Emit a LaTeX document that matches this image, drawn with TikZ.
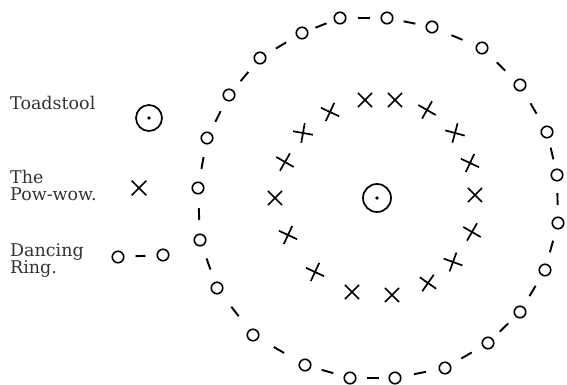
\documentclass[tikz,border=0pt]{standalone}
\usepackage{fontspec}
\setmainfont{DejaVu Serif}
\usetikzlibrary{shapes.misc,calc}
\begin{document}
\begin{tikzpicture}[x=1pt,y=-1pt,
  ringpt/.style={circle,draw,minimum size=11.5pt,inner sep=0pt,line width=1.6pt},
  ringdash/.style={line width=1.9pt},
  pw/.style={cross out,draw,minimum size=12.5pt,inner sep=0pt,line width=1.7pt},
  toad/.style={circle,draw,minimum size=27pt,inner sep=0pt,line width=1.7pt},
  lbl/.style={anchor=base west,inner sep=0pt,font=\fontsize{17.5}{17}\selectfont,text=black!80}]
\useasboundingbox (0,0) rectangle (567,385);

% legend
\node[lbl] (l1) at (10,110) {Toadstool};
\node[lbl] (l2a) at (10,183) {The};
\node[lbl] (l2b) at (10,200) {Pow-wow.};
\node[lbl] (l3a) at (10,256) {Dancing};
\node[lbl] (l3b) at (10,273) {Ring.};
\node[toad,minimum size=26pt] (lt) at (149,118) {};
\fill (lt.center) circle (1.9);
\node[pw,minimum size=13pt] (lx) at (139,188) {};
\node[ringpt] (lr1) at (118,257) {};
\node[ringpt] (lr2) at (163,255) {};
\draw[ringdash] ($(lr1)!0.5!(lr2)!5pt!(lr1)$) -- ($(lr1)!0.5!(lr2)!5pt!(lr2)$);

% centre toadstool
\node[toad,minimum size=28pt] (t) at (377,198) {};
\fill (t.center) circle (1.9);

% dancing ring
\foreach \n/\x/\y in {1/340/18,2/387/18,3/432/27,4/482/48,5/520/85,6/547/132,
  7/557/175,8/558/223,9/545/270,10/520/312,11/488/343,12/445/368,13/395/378,
  14/350/378,15/305/365,16/253/335,17/217/288,18/200/240,19/198/188,20/207/138,
  21/229/95,22/260/58,23/302/33}
  \node[ringpt] (c\n) at (\x,\y) {};
\foreach \i/\j in {1/2,2/3,3/4,4/5,5/6,6/7,7/8,8/9,9/10,10/11,11/12,12/13,
  13/14,14/15,15/16,16/17,17/18,18/19,19/20,20/21,21/22,22/23,23/1}
  \draw[ringdash] ($(c\i)!0.5!(c\j)!6pt!(c\i)$) -- ($(c\i)!0.5!(c\j)!6pt!(c\j)$);

% pow-wow
\foreach \n/\x/\y/\r in {1/303/133/35,2/330/112/20,3/365/100/0,4/395/100/0,
  5/427/110/15,6/455/133/30,7/470/163/20,8/475/195/0,9/472/232/15,
  10/453/262/25,11/428/283/10,12/392/295/0,13/352/292/0,14/315/272/20,
  15/288/235/20,16/275/198/0,17/285/162/15}
  \node[pw,rotate=\r] (x\n) at (\x,\y) {};
\end{tikzpicture}
\end{document}
